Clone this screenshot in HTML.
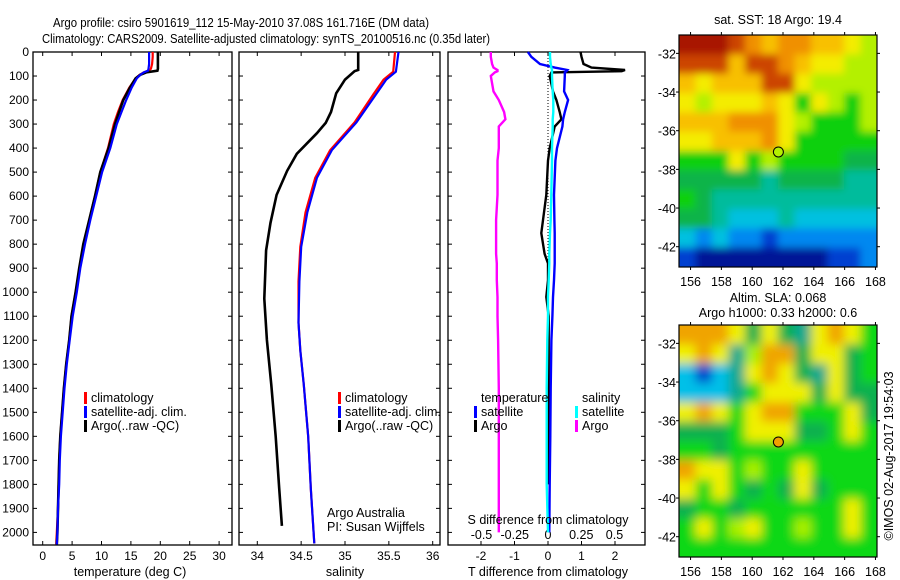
<!DOCTYPE html>
<html><head><meta charset="utf-8"><style>
html,body{margin:0;padding:0;background:#fff;}
svg{display:block;font-family:"Liberation Sans",sans-serif;}
text{fill:#000;}
</style></head><body>
<svg id="fig" width="900" height="580" viewBox="0 0 900 580" xmlns="http://www.w3.org/2000/svg">
<defs>
<filter id="c1f" filterUnits="userSpaceOnUse" x="660" y="20" width="240" height="260"><feGaussianBlur stdDeviation="4"/></filter>
<filter id="c2f" filterUnits="userSpaceOnUse" x="660" y="310" width="240" height="260"><feGaussianBlur stdDeviation="5"/></filter>
<clipPath id="c1"><rect x="679" y="35" width="198" height="232"/></clipPath>
<clipPath id="c2"><rect x="679" y="325" width="198" height="232"/></clipPath>
</defs>
<text x="53" y="27" font-size="13" textLength="376" lengthAdjust="spacingAndGlyphs">Argo profile: csiro 5901619_112 15-May-2010 37.08S 161.716E (DM data)</text>
<text x="42" y="43" font-size="13" textLength="448" lengthAdjust="spacingAndGlyphs">Climatology: CARS2009. Satellite-adjusted climatology: synTS_20100516.nc (0.35d later)</text>
<g id="g"></g>
</svg>
<script>
// ---- data (depth in m) ----
var tDepth = [0,20,50,70,78,85,95,110,150,200,250,300,400,500,600,700,800,900,1000,1100,1200,1300,1400,1500,1600,1700,1800,1900,2000,2050];
var tempArgo = [19.6,19.6,19.6,19.6,19.5,17.6,16.6,15.8,14.8,13.7,13.0,12.3,11.2,9.8,8.9,7.9,6.9,6.2,5.6,4.9,4.5,4.0,3.6,3.3,3.0,2.8,2.7,2.6,2.5,2.4];
var tempClim = [18.7,18.7,18.6,18.4,18.0,17.2,16.5,15.8,14.7,13.6,12.8,12.1,11.1,9.8,8.9,7.9,7.0,6.3,5.6,4.9,4.5,4.0,3.6,3.3,3.0,2.8,2.7,2.6,2.4,2.3];
var tempSat  = [18.1,18.1,18.1,18.0,17.9,17.2,16.6,16.0,15.1,14.2,13.4,12.6,11.5,10.1,9.1,8.1,7.2,6.4,5.8,5.1,4.6,4.1,3.7,3.4,3.1,2.9,2.8,2.6,2.5,2.4];
var sDepth = [0,75,80,115,172,250,295,338,424,495,595,711,826,1027,1199,1386,1601,1817,1973];
var salArgo = [35.15,35.15,35.11,35.0,34.9,34.84,34.78,34.68,34.45,34.34,34.22,34.15,34.1,34.08,34.11,34.16,34.21,34.25,34.28];
var scDepth = [0,82,115,178,293,409,524,668,811,955,1127,1242,1386,1601,1817,2046];
var salClim = [35.57,35.55,35.44,35.32,35.11,34.83,34.66,34.55,34.49,34.47,34.47,34.49,34.53,34.58,34.61,34.65];
var salSat  = [35.61,35.58,35.47,35.35,35.13,34.85,34.68,34.57,34.50,34.48,34.47,34.49,34.53,34.58,34.61,34.65];
var dDepth = [0,20,50,65,75,80,85,100,164,200,250,280,310,400,452,595,700,754,840,880,950,1020,1100,1200,1400,1600,1800,2000];
var tDiffArgo = [0.97,1.0,1.06,1.3,2.3,2.2,0.1,0.05,0.15,0.25,0.35,0.4,0.2,0.05,0.0,-0.05,-0.15,-0.2,-0.1,0.0,0.0,-0.05,0.02,0.02,0.02,0.02,0.02,null];
var tDiffSat = [-0.6,-0.5,-0.24,0.2,0.58,0.55,0.5,0.5,0.48,0.6,0.5,0.45,0.43,0.27,0.22,0.18,0.19,0.2,0.2,0.2,0.18,0.15,0.13,0.1,0.08,0.07,0.05,0.04];
var sDiffArgo = [-0.43,-0.43,-0.42,-0.41,-0.38,-0.38,-0.4,-0.43,-0.41,-0.37,-0.33,-0.32,-0.37,-0.37,-0.38,-0.38,-0.39,-0.39,-0.39,-0.385,-0.385,-0.38,-0.38,-0.375,-0.37,-0.37,-0.37,-0.37];
var sDiffSat = [0.015,0.015,0.02,0.025,0.03,0.03,0.03,0.03,0.035,0.04,0.04,0.035,0.035,0.03,0.03,0.025,0.02,0.015,0.01,0.01,0.005,0.0,0.0,-0.005,-0.01,-0.01,-0.01,0.0];
var depthTicks = [0,100,200,300,400,500,600,700,800,900,1000,1100,1200,1300,1400,1500,1600,1700,1800,1900,2000];
var tempTicks = [0,5,10,15,20,25,30];
var salTicks = [34,34.5,35,35.5,36];
var tdTicks = [-2,-1,0,1,2];
var sdTicks = [-0.5,-0.25,0,0.25,0.5];
var sdTickLabels = ["-0.5","-0.25","0","0.25","0.5"];
var lonTicks = [156,158,160,162,164,166,168];
var latTicks = [-32,-34,-36,-38,-40,-42];
var floatLon = 161.7, floatLat = -37.1;
var sstGrid = ["000123223345","111311234455","343331145555","454443464565","333222456665","443332466666","666465666677","777778777788","678888888888","778999899999","9A9AABAAAAAA","BCCCCCCCCBBA"];
var slaGrid = ["oooydydtyoyg","yoytloodyydg","cbctyoydtydg","ccctgyyydydd","yoygyoogggyd","dddgyyyddgyg","ggdggggggggg","oyyglggygggg","ygygdgdydggg","dggdggggggyg","gyglygglggyg","gggggggggggg"];

var NS='http://www.w3.org/2000/svg';
var G=document.getElementById('g');
function el(tag,attrs,parent,txt){var e=document.createElementNS(NS,tag);for(var k in attrs)e.setAttribute(k,attrs[k]);if(txt!==undefined)e.textContent=txt;(parent||G).appendChild(e);return e;}

var yTop=52, yPerM=0.2402;
function yD(d){return yTop+d*yPerM;}
var panY0=52, panY1=545;

function panel(x0,x1,name){
  var g=el('g',{});
  
  
  var r=el('rect',{x:x0,y:panY0,width:x1-x0,height:panY1-panY0,fill:'#fff',stroke:'#000','stroke-width':1.3},g);
  
  
  depthTicks.forEach(function(d){var y=yD(d);
    el('line',{x1:x0,x2:x0+4,y1:y,y2:y,stroke:'#000'},g);
    el('line',{x1:x1-4,x2:x1,y1:y,y2:y,stroke:'#000'},g);});
  return g;
}
function xTicks(g,vals,fx,labels,ly,name){
  vals.forEach(function(v,i){var x=fx(v);
    el('line',{x1:x,x2:x,y1:panY1-4,y2:panY1,stroke:'#000'},g);
    el('line',{x1:x,x2:x,y1:panY0,y2:panY0+4,stroke:'#000'},g);
    var t=el('text',{x:x,y:ly,'font-size':12,'text-anchor':'middle'},g,labels?labels[i]:String(v));
    
    
  });
}
function line(g,xs,ds,fx,color,w,name){
  var pts=[];
  for(var i=0;i<xs.length;i++){ if(xs[i]===null||xs[i]===undefined) continue; pts.push(fx(xs[i]).toFixed(1)+','+yD(ds[i]).toFixed(1)); }
  var p=el('polyline',{points:pts.join(' '),fill:'none',stroke:color,'stroke-width':w,'stroke-linejoin':'miter'},g);
  
  
  return p;
}
function legend(g,x,y,items,name){
  items.forEach(function(it,i){var yy=y+i*14;
    if(it.c) el('rect',{x:x-7,y:yy-10,width:3,height:12,fill:it.c},g);
    var t=el('text',{x:x,y:yy,'font-size':12.5},g,it.t);
    
    
  });
}

var fT=function(v){return 42.7+v*5.88;};
var p1=panel(33,232,'temperature-panel');
depthTicks.forEach(function(d){var t=el('text',{x:29,y:yD(d)+4,'font-size':12,'text-anchor':'end'},p1,String(d));
  
  });
xTicks(p1,tempTicks,fT,null,560,'temperature');
line(p1,tempClim,tDepth,fT,'#f00',2.2,'temperature-climatology-line');
line(p1,tempArgo,tDepth,fT,'#000',2.6,'temperature-argo-line');
line(p1,tempSat,tDepth,fT,'#00f',2.2,'temperature-satellite-line');
legend(p1,91,402,[{c:'#f00',t:'climatology'},{c:'#00f',t:'satellite-adj. clim.'},{c:'#000',t:'Argo(..raw -QC)'}],'temperature-legend');
var xl1=el('text',{x:130,y:576,'font-size':12.5,'text-anchor':'middle'},p1,'temperature (deg C)');



var fS=function(v){return 257.3+(v-34)*87.7;};
var p2=panel(239,440,'salinity-panel');
xTicks(p2,salTicks,fS,null,560,'salinity');
line(p2,salArgo,sDepth,fS,'#000',2.6,'salinity-argo-line');
line(p2,salClim,scDepth,fS,'#f00',2.2,'salinity-climatology-line');
line(p2,salSat,scDepth,fS,'#00f',2.2,'salinity-satellite-line');
legend(p2,345,402,[{c:'#f00',t:'climatology'},{c:'#00f',t:'satellite-adj. clim.'},{c:'#000',t:'Argo(..raw -QC)'}],'salinity-legend');
var tA=el('text',{x:327,y:517,'font-size':12.5},p2,'Argo Australia');


var tP=el('text',{x:327,y:531,'font-size':12.5},p2,'PI: Susan Wijffels');


var xl2=el('text',{x:345,y:576,'font-size':12.5,'text-anchor':'middle'},p2,'salinity');



var fTD=function(v){return 548+v*33.5;};
var fSD=function(v){return 548+v*133;};
var p3=panel(448,645,'difference-panel');
xTicks(p3,tdTicks,fTD,null,560,'t-difference');
sdTicks.forEach(function(v,i){var t=el('text',{x:fSD(v),y:539,'font-size':12.5,'text-anchor':'middle'},p3,sdTickLabels[i]);
  
  });
el('line',{x1:548,x2:548,y1:yD(0),y2:yD(900),stroke:'#000','stroke-width':1,'stroke-dasharray':'1,2'},p3);
line(p3,sDiffArgo,dDepth,fSD,'#f0f',2.4,'salinity-difference-argo-line');
line(p3,tDiffArgo,dDepth,fTD,'#000',2.4,'temperature-difference-argo-line');
line(p3,tDiffSat,dDepth,fTD,'#00f',2.4,'temperature-difference-satellite-line');
line(p3,sDiffSat,dDepth,fSD,'#0ff',2.4,'salinity-difference-satellite-line');
legend(p3,481,402,[{t:'temperature'},{c:'#00f',t:'satellite'},{c:'#000',t:'Argo'}],'temperature-difference-legend');
legend(p3,582,402,[{t:'salinity'},{c:'#0ff',t:'satellite'},{c:'#f0f',t:'Argo'}],'salinity-difference-legend');
var sdl=el('text',{x:548,y:524,'font-size':12.5,'text-anchor':'middle'},p3,'S difference from climatology');


var tdl=el('text',{x:548,y:576,'font-size':12.5,'text-anchor':'middle'},p3,'T difference from climatology');



var sstCol={'0':'#a81400','1':'#cc4400','2':'#f09000','3':'#f8c000','4':'#f4ec00','5':'#b4f000','6':'#10d010','7':'#10b448','8':'#00bc9c','9':'#00c0e0','A':'#0088f0','B':'#0040d0','C':'#001496'};
var slaCol={'o':'#f0a400','y':'#f0f000','l':'#a8f000','g':'#10d818','d':'#10b050','t':'#10a890','c':'#00c0e8','b':'#0044cc'};
var mx0=679,mx1=877,lonA=155.25,lonB=168.1;
function fLon(v){return mx0+(v-lonA)*(mx1-mx0)/(lonB-lonA);}
function drawMap(name,y0,y1,latTop,latBot,grid,cols,dotFill,titles,id){
  var g=el('g',{});
  
  
  var fLat=function(v){return y0+(latTop-v)*(y1-y0)/(latTop-latBot);};
  var cg=el('g',{'clip-path':'url(#'+id+')'},g);
  var ig=el('g',{filter:'url(#'+id+'f)'},cg);
  var nr=grid.length,nc=grid[0].length,cw=(mx1-mx0)/nc,ch=(y1-y0)/nr;
  for(var r=0;r<nr;r++)for(var c=0;c<nc;c++){
    var rx=mx0+c*cw, ry=y0+r*ch, w=cw+0.5, h=ch+0.5;
    if(c==0){rx-=12;w+=12;} if(c==nc-1){w+=12;} if(r==0){ry-=12;h+=12;} if(r==nr-1){h+=12;}
    el('rect',{x:rx,y:ry,width:w,height:h,fill:cols[grid[r][c]]},ig);
  }
  var fr=el('rect',{x:mx0,y:y0,width:mx1-mx0,height:y1-y0,fill:'none',stroke:'#000','stroke-width':1.2},g);
  
  
  lonTicks.forEach(function(v){var x=fLon(v);
    el('line',{x1:x,x2:x,y1:y0-3,y2:y0,stroke:'#000'},g);
    el('line',{x1:x,x2:x,y1:y1,y2:y1+3,stroke:'#000'},g);
    var t=el('text',{x:x,y:y1+19,'font-size':12.5,'text-anchor':'middle'},g,String(v));
    
    });
  latTicks.forEach(function(v){var y=fLat(v);
    el('line',{x1:mx0-3,x2:mx0,y1:y,y2:y,stroke:'#000'},g);
    el('line',{x1:mx1,x2:mx1+3,y1:y,y2:y,stroke:'#000'},g);
    var t=el('text',{x:mx0-3,y:y+5,'font-size':12.5,'text-anchor':'end'},g,String(v));
    
    });
  var dot=el('circle',{cx:fLon(floatLon),cy:fLat(floatLat),r:5,fill:dotFill,stroke:'#000','stroke-width':1},g);
  
  
  titles.forEach(function(tt,i){var t=el('text',{x:778,y:tt[1],'font-size':12.5,'text-anchor':'middle'},g,tt[0]);
    
    });
}
drawMap('sst-map',35,267,-31.05,-43.05,sstGrid,sstCol,'#b4f000',[['sat. SST: 18  Argo: 19.4',24]],'c1');
drawMap('sla-map',325,557,-31.05,-43.05,slaGrid,slaCol,'#f0a000',[['Altim. SLA: 0.068',302],['Argo h1000: 0.33 h2000: 0.6',317]],'c2');
var cr=el('text',{x:0,y:0,'font-size':12.5,'text-anchor':'middle',transform:'translate(893,456) rotate(-90)'},G,'©IMOS 02-Aug-2017 19:54:03');


</script>
</body></html>
